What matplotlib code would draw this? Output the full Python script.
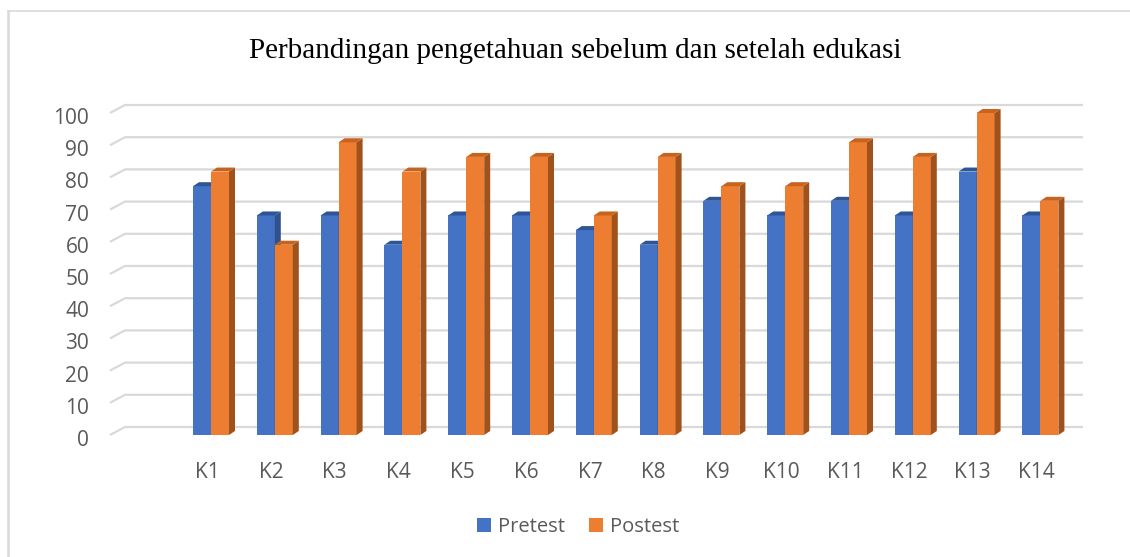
import matplotlib
matplotlib.use("Agg")
import matplotlib.pyplot as plt
import matplotlib.transforms as mtransforms
from matplotlib.patches import Polygon, Patch
from matplotlib.lines import Line2D

# data (nilai pretest / postest per responden)
kategori = ['K1', 'K2', 'K3', 'K4', 'K5', 'K6', 'K7', 'K8', 'K9', 'K10', 'K11', 'K12', 'K13', 'K14']
pretest = [77.27, 68.18, 68.18, 59.09, 68.18, 68.18, 63.64, 59.09, 72.73, 68.18, 72.73, 68.18, 81.82, 68.18]
postest = [81.82, 59.09, 90.91, 81.82, 86.36, 86.36, 68.18, 86.36, 77.27, 77.27, 90.91, 86.36, 100.0, 72.73]
yticks = list(range(0, 101, 10))

c_pre, c_pre_side, c_pre_top = '#4472C4', '#2F528F', '#2F5597'
c_post, c_post_side, c_post_top = '#ED7D31', '#A0521D', '#C8631E'
c_grid = '#D9D9D9'
c_text = '#595959'

W, H = 1130, 557
fig = plt.figure(figsize=(W / 100, H / 100), dpi=100)

# axes placed in pixel terms
px_unit_x = 63.8
px_unit_y = 3.22
x_left_px, x_right_px = 110, 1083
x0_px = 211
xlim = ((x_left_px - x0_px) / px_unit_x, (x_right_px - x0_px) / px_unit_x)
ylim = (-1.5, 104)
ax_bottom_px = 435 - ylim[0] * px_unit_y
ax_top_px = 435 - ylim[1] * px_unit_y
ax = fig.add_axes([x_left_px / W, (H - ax_bottom_px) / H,
                   (x_right_px - x_left_px) / W, (ax_bottom_px - ax_top_px) / H])
ax.set_xlim(*xlim)
ax.set_ylim(*ylim)

# 3D look offsets (data units)
depth_x = 6 / px_unit_x
depth_y = 4 / px_unit_y
back_y = 8 / px_unit_y
slant_x = 15 / px_unit_x

for v in yticks:
    ax.plot([xlim[0], xlim[0] + slant_x, xlim[1]], [v, v + back_y, v + back_y],
            color=c_grid, lw=1.6, zorder=1, clip_on=False, solid_capstyle='butt')

w = 18 / px_unit_x
xs = list(range(len(kategori)))


def bar3d(x, v, color, side, top, z):
    ax.bar(x, v, w, align='edge', color=color, zorder=z, linewidth=0)
    xr = x + w
    ax.add_patch(Polygon([(xr, 0), (xr + depth_x, depth_y), (xr + depth_x, v + depth_y), (xr, v)],
                         closed=True, facecolor=side, edgecolor='none', zorder=z))
    ax.add_patch(Polygon([(x, v), (x + depth_x, v + depth_y), (xr + depth_x, v + depth_y), (xr, v)],
                         closed=True, facecolor=top, edgecolor='none', zorder=z))


for i in xs:
    bar3d(i - w, pretest[i], c_pre, c_pre_side, c_pre_top, 2 + i * 0.01)
    bar3d(i, postest[i], c_post, c_post_side, c_post_top, 3 + i * 0.01)

for s in ax.spines.values():
    s.set_visible(False)

font = 'Open Sans'
ax.set_yticks(yticks)
ax.set_yticklabels([str(t) for t in yticks], fontsize=15, color=c_text, family=font)
ax.set_xticks([i - 0.06 for i in xs])
ax.set_xticklabels(kategori, fontsize=15, color=c_text, family=font)
ax.tick_params(axis='y', length=0, pad=15)
ax.tick_params(axis='x', length=0, pad=16)
shift = mtransforms.ScaledTranslation(0, -3 / 100, fig.dpi_scale_trans)
for lbl in ax.get_yticklabels():
    lbl.set_transform(lbl.get_transform() + shift)

fig.text(575 / W, 1 - 51 / H, 'Perbandingan pengetahuan sebelum dan setelah edukasi',
         ha='center', va='center', fontsize=21, family='Liberation Serif', color='black')

handles = [Patch(facecolor=c_pre), Patch(facecolor=c_post)]
fig.legend(handles, ['Pretest', 'Postest'], loc='center', bbox_to_anchor=(578 / W, 1 - 527 / H),
           ncol=2, frameon=False, handlelength=0.7, handleheight=0.7, handletextpad=0.35,
           columnspacing=1.2, prop={'family': font, 'size': 14.5}, labelcolor=c_text)

# chart border (top and left visible)
fig.add_artist(Line2D([7.5 / W, 1], [1 - 10.5 / H, 1 - 10.5 / H], color='#D9D9D9', lw=1.2))
fig.add_artist(Line2D([7.5 / W, 7.5 / W], [0, 1 - 10.5 / H], color='#D9D9D9', lw=1.8))

fig.savefig('out.png', dpi=100)
